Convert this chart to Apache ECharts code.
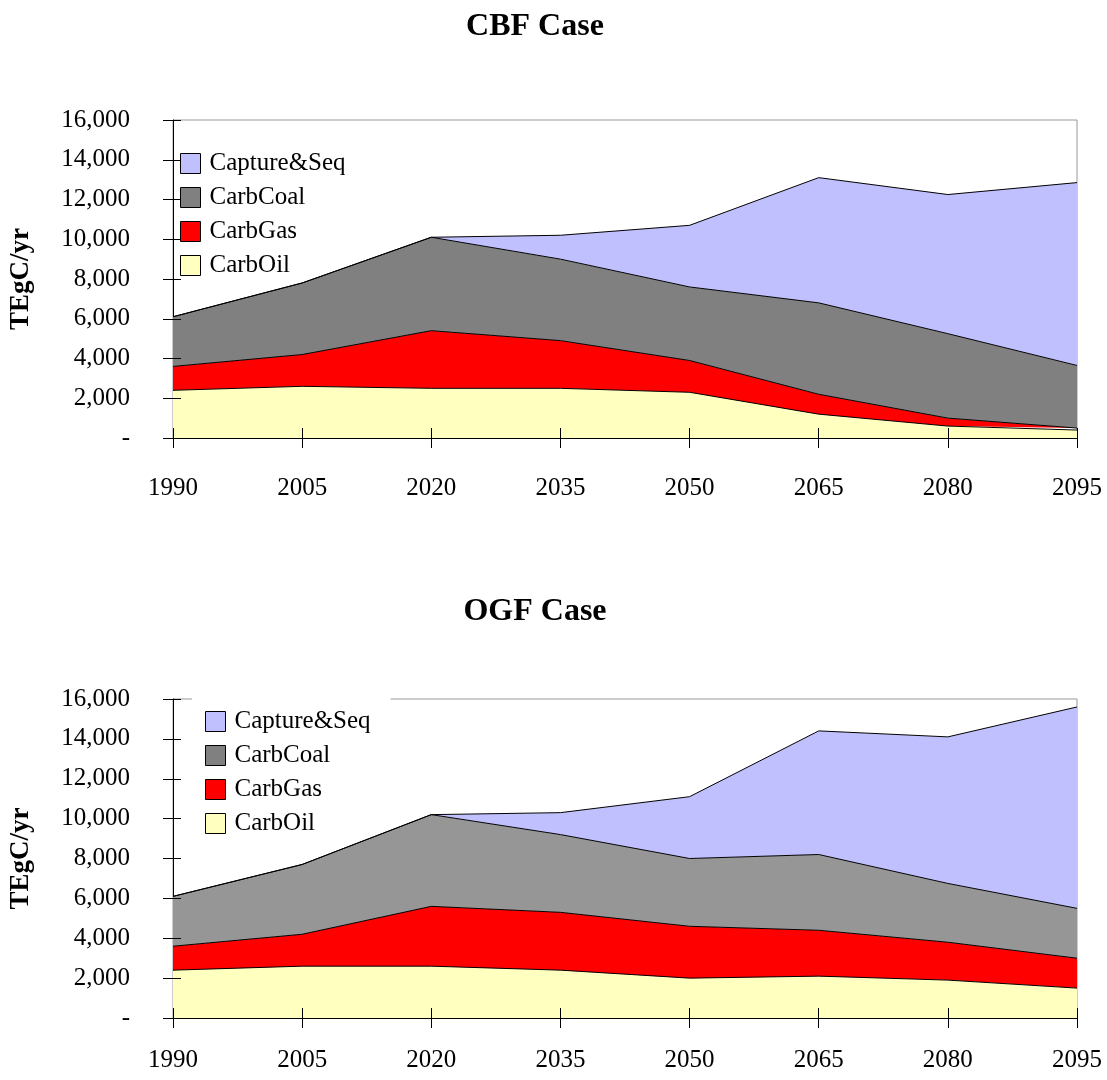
<!DOCTYPE html>
<html>
<head>
<meta charset="utf-8">
<script src="https://cdn.jsdelivr.net/npm/echarts@6/dist/echarts.min.js"></script>
<style>
  html, body { margin: 0; padding: 0; background: #ffffff; }
  #chart { width: 1107px; height: 1080px; }
</style>
</head>
<body>
<div id="chart"></div>
<script>
// 年份
const years = ['1990', '2005', '2020', '2035', '2050', '2065', '2080', '2095']
const seriesNames = ['CarbOil', 'CarbGas', 'CarbCoal', 'Capture&Seq']
const yTicks = [0, 2000, 4000, 6000, 8000, 10000, 12000, 14000, 16000]

// CBF Case (TgC/yr)
const cbfOil = [2400, 2600, 2500, 2500, 2300, 1200, 600, 400]
const cbfGas = [1200, 1600, 2900, 2400, 1600, 1000, 400, 100]
const cbfCoal = [2500, 3600, 4700, 4100, 3700, 4600, 4250, 3150]
const cbfCapture = [0, 0, 0, 1200, 3100, 6300, 7000, 9200]

// OGF Case (TgC/yr)
const ogfOil = [2400, 2600, 2600, 2400, 2000, 2100, 1900, 1500]
const ogfGas = [1200, 1600, 3000, 2900, 2600, 2300, 1900, 1500]
const ogfCoal = [2500, 3500, 4600, 3900, 3400, 3800, 2950, 2500]
const ogfCapture = [0, 0, 0, 1100, 3100, 6200, 7350, 10100]

const font = 'Liberation Serif'
const fillTop = ['#FFFFC0', '#FF0000', '#808080', '#C0C0FF']
const fillBottom = ['#FFFFC0', '#FF0000', '#969696', '#C0C0FF']

const yFmt = (v) => (v === 0 ? '-' : v.toLocaleString('en-US'))

const myChart = echarts.init(document.getElementById('chart'))

// 构造一组坐标轴
const makeAxes = (gi, labelMargin, h) => {
  const xs = [
    {
      type: 'category', gridIndex: gi, data: years, boundaryGap: false,
      axisLine: { lineStyle: { color: '#000', width: 1 } },
      axisTick: { length: 10, lineStyle: { color: '#000' } },
      axisLabel: { margin: labelMargin, fontFamily: font, fontSize: 25, color: '#000' },
      splitLine: { show: false }
    },
    { // 内侧刻度
      type: 'category', gridIndex: gi, data: years, boundaryGap: false,
      position: 'top', offset: -h, z: 10,
      axisLine: { show: false },
      axisTick: { length: 10, lineStyle: { color: '#000' } },
      axisLabel: { show: false },
      splitLine: { show: false }
    }
  ]
  const ys = [
    {
      type: 'value', gridIndex: gi, min: yTicks[0], max: yTicks[yTicks.length - 1], interval: 2000,
      axisLine: { show: true, lineStyle: { color: '#000', width: 1 } },
      axisTick: { show: true, length: 10, lineStyle: { color: '#000' } },
      axisLabel: { margin: 43, fontFamily: font, fontSize: 25, color: '#000', formatter: yFmt },
      splitLine: { show: false },
      name: 'TEgC/yr', nameLocation: 'middle', nameGap: 138,
      nameTextStyle: { fontFamily: font, fontSize: 27, fontWeight: 'bold', color: '#000' }
    },
    { // 内侧刻度
      type: 'value', gridIndex: gi, min: 0, max: 16000, interval: 2000,
      position: 'right', offset: -906, z: 10,
      axisLine: { show: false },
      axisTick: { show: true, length: 10, lineStyle: { color: '#000' } },
      axisLabel: { show: false },
      splitLine: { show: false }
    }
  ]
  return { xs, ys }
}

const a0 = makeAxes(0, 38, 318)
const a1 = makeAxes(1, 30, 319)

const makeSeries = (gi, dataArr, fills) => dataArr.map((d, i) => ({
  name: seriesNames[i],
  type: 'line',
  xAxisIndex: gi * 2,
  yAxisIndex: gi * 2,
  stack: 'total' + gi,
  data: d,
  showSymbol: false,
  symbol: 'none',
  lineStyle: { color: '#000', width: 1 },
  itemStyle: { color: fills[i] },
  areaStyle: { color: fills[i], opacity: 1 },
  z: 3
}))

const legendBase = {
  orient: 'vertical',
  icon: 'rect',
  itemWidth: 20,
  itemHeight: 20,
  itemGap: 9,
  data: ['Capture&Seq', 'CarbCoal', 'CarbGas', 'CarbOil'],
  itemStyle: { borderColor: '#000', borderWidth: 1 },
  textStyle: { fontFamily: font, fontSize: 25, color: '#000', padding: [0, 0, 0, 4] },
  selectedMode: false
}

const options = {
  animation: false,
  backgroundColor: '#ffffff',
  title: [
    { text: 'CBF Case', left: 530, top: 6, textAlign: 'center',
      textStyle: { fontFamily: font, fontSize: 32, fontWeight: 'bold', color: '#000' } },
    { text: 'OGF Case', left: 530, top: 591, textAlign: 'center',
      textStyle: { fontFamily: font, fontSize: 32, fontWeight: 'bold', color: '#000' } }
  ],
  legend: [
    Object.assign({}, legendBase, {
      left: 170, top: 151, padding: [0, 5, 0, 10]
    }),
    Object.assign({}, legendBase, {
      // 白底盖住上边框，但在面积图之下
      left: 192, top: 694, padding: [15, 20, 2, 13], backgroundColor: '#ffffff', z: 1
    })
  ],
  grid: [
    { left: 171, width: 906, top: 120, height: 318, show: true, borderColor: '#999', borderWidth: 1, backgroundColor: 'transparent', z: 0 },
    { left: 171, width: 906, top: 699, height: 319, show: true, borderColor: '#999', borderWidth: 1, backgroundColor: 'transparent', z: 0 }
  ],
  xAxis: [...a0.xs, ...a1.xs],
  yAxis: [...a0.ys, ...a1.ys],
  series: [
    ...makeSeries(0, [cbfOil, cbfGas, cbfCoal, cbfCapture], fillTop),
    ...makeSeries(1, [ogfOil, ogfGas, ogfCoal, ogfCapture], fillBottom)
  ]
}

myChart.setOption(options)
</script>
</body>
</html>
